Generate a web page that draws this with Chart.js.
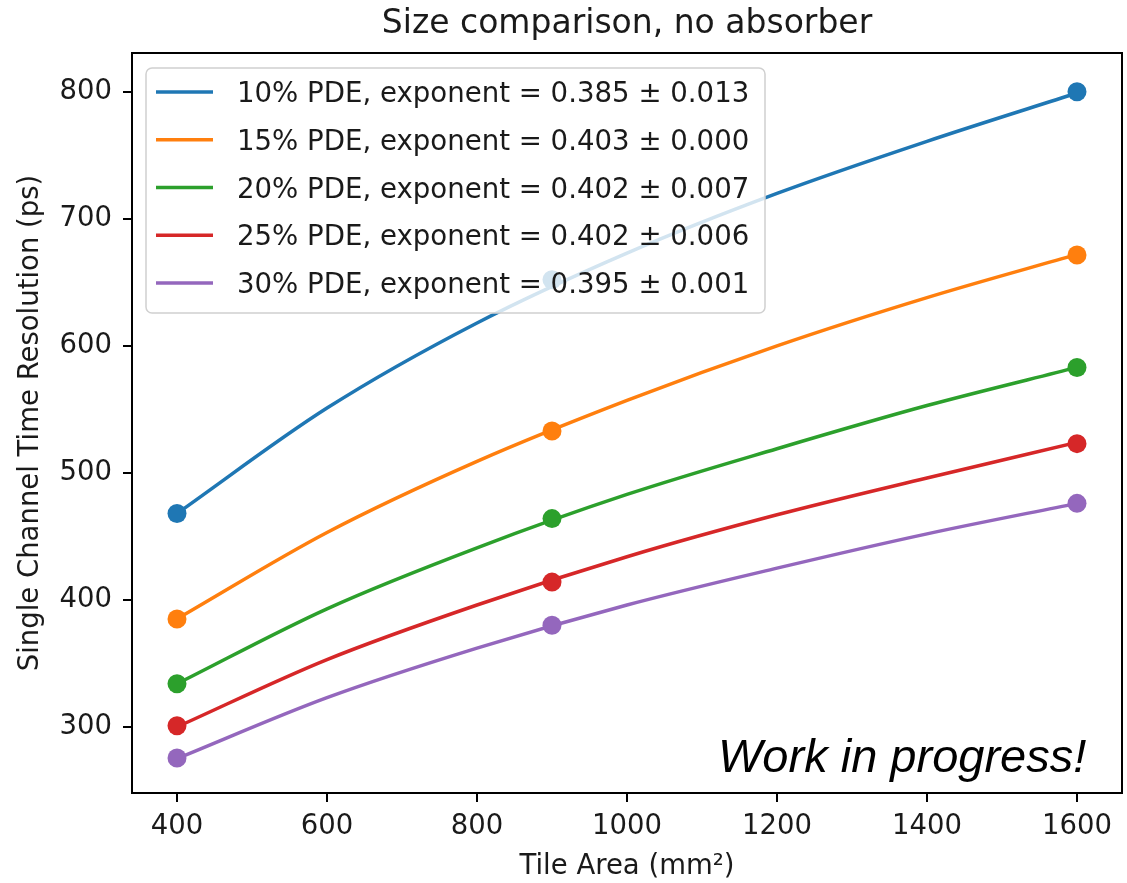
<!DOCTYPE html>
<html>
<head>
<meta charset="utf-8">
<title>Size comparison, no absorber</title>
<script src="https://cdn.jsdelivr.net/npm/chart.js@4.4.1/dist/chart.umd.min.js"></script>
<style>
    html, body { margin: 0; padding: 0; background: #fff; }
    #wrap { position: relative; width: 1127px; height: 883px; }
    #wip {
        position: absolute; left: 718px; top: 732px;
        font: italic 47px "Liberation Sans", Arial, sans-serif;
        line-height: 47px; color: #000; white-space: nowrap;
    }
</style>
</head>
<body>
<div id="wrap">
    <canvas id="sizeChart" width="1127" height="883"></canvas>
    <div id="wip">Work in progress!</div>
</div>
<script>
// ── Data ──────────────────────────────────────────────────────────────────
// Measured points (tile area in mm², resolution in ps)
const areas = [400, 900, 1600];
const pde10 = [468, 652, 800];
const pde15 = [385, 533, 671.5];
const pde20 = [334, 464, 583];
const pde25 = [301, 414, 523];
const pde30 = [275.5, 380, 476];

// Power-law fit curves, every 200 mm²
const fitAreas = [400, 600, 800, 1000, 1200, 1400, 1600];
const fit10 = [468, 551, 618, 673, 720, 761, 799];
const fit15 = [385, 453, 509, 557, 600, 638, 672];
const fit20 = [334, 393, 441, 483, 519, 553, 583];
const fit25 = [300, 353, 396, 434, 467, 496, 524];
const fit30 = [275, 323, 362, 396, 425, 452, 476];

const seriesLabels = [
    '10% PDE, exponent = 0.385 \u00b1 0.013',
    '15% PDE, exponent = 0.403 \u00b1 0.000',
    '20% PDE, exponent = 0.402 \u00b1 0.007',
    '25% PDE, exponent = 0.402 \u00b1 0.006',
    '30% PDE, exponent = 0.395 \u00b1 0.001'
];
const colors = ['#1f77b4', '#ff7f0e', '#2ca02c', '#d62728', '#9467bd'];

const xTicks = [400, 600, 800, 1000, 1200, 1400, 1600];
const yTicks = [300, 400, 500, 600, 700, 800];

// ── Build datasets ────────────────────────────────────────────────────────
const points = [pde10, pde15, pde20, pde25, pde30];
const fits = [fit10, fit15, fit20, fit25, fit30];
const FONT = '"DejaVu Sans", Verdana, sans-serif';

const datasets = [];
fits.forEach((f, i) => {
    datasets.push({
        type: 'line',
        label: seriesLabels[i],
        data: fitAreas.map((x, k) => ({ x: x, y: f[k] })),
        borderColor: colors[i],
        borderWidth: 3.5,
        pointRadius: 0,
        cubicInterpolationMode: 'monotone',
        fill: false,
        order: 2
    });
});
points.forEach((p, i) => {
    datasets.push({
        type: 'scatter',
        label: '_pts' + i,
        data: areas.map((x, k) => ({ x: x, y: p[k] })),
        backgroundColor: colors[i],
        borderWidth: 0,
        pointRadius: 9.5,
        showLine: false,
        order: 1
    });
});

// ── Title, frame and legend (matplotlib look) ─────────────────────────────
const decor = {
    id: 'decor',
    afterDatasetsDraw(chart) {
        const { ctx, chartArea: a } = chart;
        ctx.save();

        // axes frame
        ctx.strokeStyle = '#000';
        ctx.lineWidth = 2;
        ctx.strokeRect(a.left, a.top, a.right - a.left, a.bottom - a.top);

        // legend box
        const bx = 146, by = 68, bw = 619, bh = 245, r = 6;
        ctx.beginPath();
        ctx.roundRect(bx, by, bw, bh, r);
        ctx.fillStyle = 'rgba(255,255,255,0.8)';
        ctx.fill();
        ctx.strokeStyle = '#d0d0d0';
        ctx.lineWidth = 1.5;
        ctx.stroke();

        ctx.font = '27.6px ' + FONT;
        ctx.textBaseline = 'alphabetic';
        ctx.textAlign = 'left';
        seriesLabels.forEach((lab, i) => {
            const yc = 92 + i * 47.75;
            ctx.strokeStyle = colors[i];
            ctx.lineWidth = 3.5;
            ctx.beginPath();
            ctx.moveTo(156, yc);
            ctx.lineTo(213, yc);
            ctx.stroke();
            ctx.fillStyle = '#1a1a1a';
            ctx.fillText(lab, 237, yc + 10);
        });

        // title
        ctx.font = '33px ' + FONT;
        ctx.textAlign = 'center';
        ctx.fillStyle = '#1a1a1a';
        ctx.fillText('Size comparison, no absorber', (a.left + a.right) / 2, 33);
        ctx.restore();
    }
};

// ── Chart ─────────────────────────────────────────────────────────────────
const tickFont = { family: FONT, size: 27.5 };

new Chart(document.getElementById('sizeChart').getContext('2d'), {
    data: { datasets: datasets },
    options: {
        responsive: false,
        animation: false,
        layout: { autoPadding: false, padding: { top: 53, right: 5, bottom: 0, left: 0 } },
        plugins: {
            legend: { display: false },
            title: { display: false },
            tooltip: { enabled: false }
        },
        scales: {
            x: {
                type: 'linear',
                min: 340,
                max: 1660,
                afterBuildTicks: s => { s.ticks = xTicks.map(v => ({ value: v })); },
                afterFit: s => { s.height = 90; s.paddingLeft = 0; s.paddingRight = 0; },
                ticks: { font: tickFont, color: '#1a1a1a', padding: 8, callback: v => String(v) },
                grid: { drawOnChartArea: false, drawTicks: true, tickLength: 9, color: '#000', lineWidth: 2 },
                border: { display: false },
                title: {
                    display: true,
                    text: 'Tile Area (mm\u00b2)',
                    font: tickFont,
                    color: '#1a1a1a',
                    padding: { top: 0, bottom: 0 }
                }
            },
            y: {
                type: 'linear',
                min: 248,
                max: 830.5,
                afterBuildTicks: s => { s.ticks = yTicks.map(v => ({ value: v })); },
                afterFit: s => { s.width = 132; s.paddingTop = 0; s.paddingBottom = 0; },
                ticks: { font: tickFont, color: '#1a1a1a', padding: 11, callback: v => String(v) },
                grid: { drawOnChartArea: false, drawTicks: true, tickLength: 9, color: '#000', lineWidth: 2 },
                border: { display: false },
                title: {
                    display: true,
                    text: 'Single Channel Time Resolution (ps)',
                    font: tickFont,
                    color: '#1a1a1a',
                    padding: { top: 14, bottom: 0 }
                }
            }
        }
    },
    plugins: [decor]
});
</script>
</body>
</html>
